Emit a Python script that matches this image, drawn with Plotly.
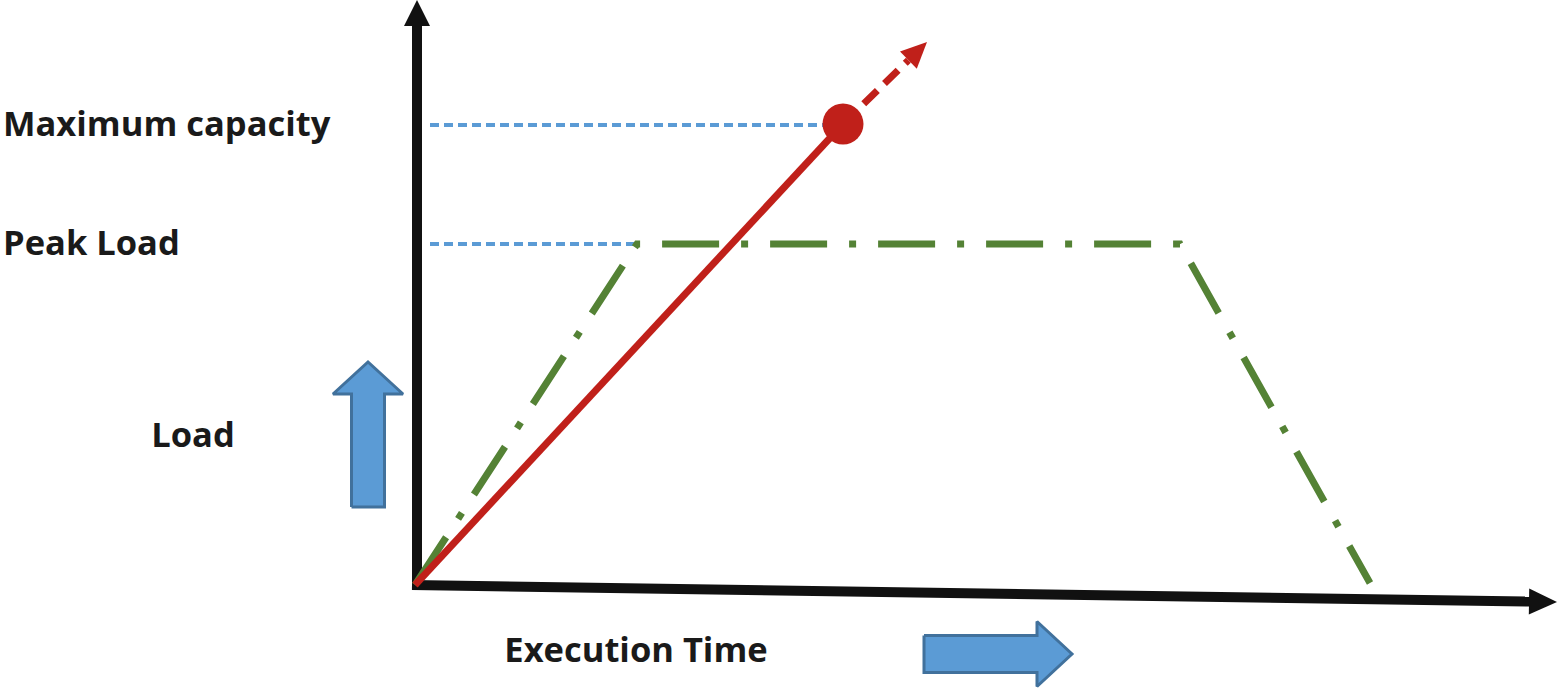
import numpy as np
import plotly.graph_objects as go

# ---------------- data (diagram units: origin at the axes corner, y up) ----------------
time_axis_end = [1142, -17]        # tip of the "Execution Time" axis
load_axis_end = [2, 585]           # tip of the "Load" axis

max_capacity = 460                 # level of "Maximum capacity"
peak_load = 341                    # level of "Peak Load"

capacity_x = [0, 428]              # red ramp up to maximum capacity
capacity_y = [0, 461]
capacity_ext_x = [428, 512]        # dashed continuation beyond capacity
capacity_ext_y = [461, 543]

load_profile_x = [0, 222, 765, 955]    # green load profile (ramp, plateau, ramp down)
load_profile_y = [0, 341, 341, 2]

guide_x_start = 15
max_guide_x_end = 408
peak_guide_x_end = 225

labels = ["Maximum capacity", "Peak Load", "Load", "Execution Time"]
label_x = [-412, -412, -222, 221]
label_y = [458, 339, 147, -68]

# block arrows: tail, tip
load_arrow = [(-47, 78), (-47, 223)]
time_arrow = [(509, -69), (657, -69)]

# ---------------- helpers ----------------
def arrowhead(tip, tail, length, half):
    tip = np.array(tip, float); tail = np.array(tail, float)
    d = tip - tail; d /= np.linalg.norm(d)
    n = np.array([-d[1], d[0]])
    base = tip - d * length
    pts = [tip, base + n * half, base - n * half, tip]
    return [p[0] for p in pts], [p[1] for p in pts], base

def block_arrow(tail, tip, shaft_half, head_half, head_len):
    tail = np.array(tail, float); tip = np.array(tip, float)
    d = tip - tail; d /= np.linalg.norm(d)
    n = np.array([-d[1], d[0]])
    base = tip - d * head_len
    pts = [tail + n * shaft_half, base + n * shaft_half, base + n * head_half, tip,
           base - n * head_half, base - n * shaft_half, tail - n * shaft_half, tail + n * shaft_half]
    return [p[0] for p in pts], [p[1] for p in pts]

BLACK = "#111111"
RED = "#C0201A"
GREEN = "#548235"
BLUE = "#5B9BD5"
BLUE_EDGE = "#41719C"

fig = go.Figure()

def poly(xs, ys, fill, edge=None, ew=0):
    fig.add_trace(go.Scatter(x=xs, y=ys, mode="lines", fill="toself", fillcolor=fill,
                             line=dict(color=edge or fill, width=ew), hoverinfo="skip",
                             showlegend=False))

def line(xs, ys, color, width, dash="solid"):
    fig.add_trace(go.Scatter(x=xs, y=ys, mode="lines", line=dict(color=color, width=width, dash=dash),
                             hoverinfo="skip", showlegend=False))

# blue dotted guide lines
line([guide_x_start, max_guide_x_end], [max_capacity, max_capacity], BLUE, 4, "9px,5px")
line([guide_x_start, peak_guide_x_end], [peak_load, peak_load], BLUE, 4, "9px,5px")

# axes
hx, hy, ybase = arrowhead(load_axis_end, [load_axis_end[0], 0], 26, 13)
line([load_axis_end[0], load_axis_end[0]], [-5, ybase[1] + 1], BLACK, 10)
poly(hx, hy, BLACK)
hx, hy, xbase = arrowhead(time_axis_end, [0, 0], 28, 13)
line([-3, xbase[0] + 1], [0, xbase[1]], BLACK, 10)
poly(hx, hy, BLACK)

# green load profile
line(load_profile_x, load_profile_y, GREEN, 7, "57px,22px,7px,22px")

# red capacity line
line(capacity_x, capacity_y, RED, 7)
hx, hy, rbase = arrowhead([capacity_ext_x[1], capacity_ext_y[1]], [capacity_ext_x[0], capacity_ext_y[0]], 26, 12)
line([capacity_ext_x[0], rbase[0]], [capacity_ext_y[0], rbase[1]], RED, 7, "19px,10px")
poly(hx, hy, RED)
fig.add_trace(go.Scatter(x=[capacity_x[1]], y=[capacity_y[1]], mode="markers",
                         marker=dict(color=RED, size=41, line=dict(width=0)),
                         hoverinfo="skip", showlegend=False))

# block arrows
bx, by = block_arrow(load_arrow[0], load_arrow[1], 16.5, 35, 32)
poly(bx, by, BLUE, BLUE_EDGE, 3)
bx, by = block_arrow(time_arrow[0], time_arrow[1], 18.5, 32.5, 35)
poly(bx, by, BLUE, BLUE_EDGE, 3)

# labels
fig.add_trace(go.Scatter(x=label_x, y=label_y, mode="text", text=labels,
                         textposition=["middle right", "middle right", "middle center", "middle center"],
                         textfont=dict(family="Open Sans", size=34.5, color="#1a1a1a", weight="bold"),
                         hoverinfo="skip", showlegend=False))

fig.update_layout(
    width=1559, height=692, margin=dict(l=0, r=0, t=0, b=0),
    paper_bgcolor="white", plot_bgcolor="white",
    xaxis=dict(range=[-415, 1144], visible=False, fixedrange=True),
    yaxis=dict(range=[-107, 585], visible=False, fixedrange=True),
)

fig.write_html("out.html", config={"displayModeBar": False},
               post_script="document.body.style.margin='0';document.body.style.overflow='hidden';")
